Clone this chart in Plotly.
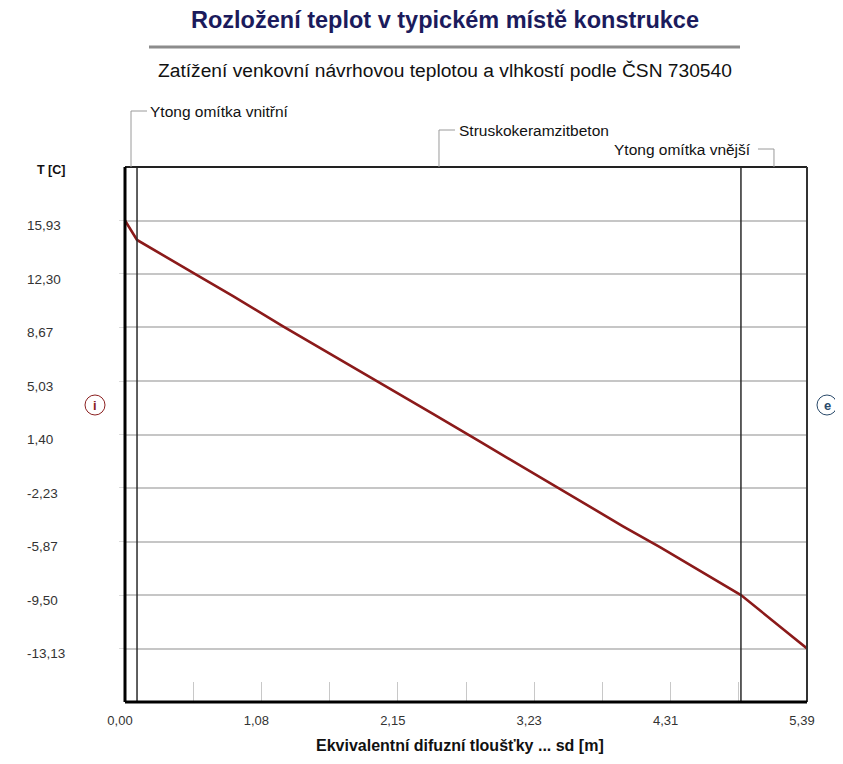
import plotly.graph_objects as go

# ---------------- data ----------------
sd_x = [0.0, 0.095, 0.593, 0.854, 1.249, 1.644, 1.992, 2.434, 2.806, 3.256, 3.596, 3.936, 4.228, 4.521, 4.868, 5.39]
temp_c = [15.93, 14.61, 12.10, 10.80, 8.74, 6.76, 5.05, 2.80, 0.91, -1.37, -3.08, -4.83, -6.25, -7.73, -9.50, -13.13]

layer_bounds = [0.0, 0.095, 4.868, 5.39]
layer_names = ["Ytong omítka vnitřní", "Struskokeramzitbeton", "Ytong omítka vnější"]

y_tick_vals = [15.93, 12.30, 8.67, 5.03, 1.40, -2.23, -5.87, -9.50, -13.13]
y_tick_text = ["15,93", "12,30", "8,67", "5,03", "1,40", "-2,23", "-5,87", "-9,50", "-13,13"]
x_tick_vals = [0.0, 1.078, 2.156, 3.234, 4.312, 5.39]
x_tick_text = ["0,00", "1,08", "2,15", "3,23", "4,31", "5,39"]

title = "Rozložení teplot v typickém místě konstrukce"
subtitle = "Zatížení venkovní návrhovou teplotou a vlhkostí podle ČSN 730540"
x_title = "Ekvivalentní difuzní tloušťky ... sd [m]"
y_title = "T [C]"

# ---------------- geometry (screen pixels, page body has an 8px margin) ----------------
W, H = 843, 764
OFF = 8
ML, MT = 125 - OFF - 105, 167 - OFF
MR = W - (807 - OFF)
MB = H - (702 - OFF)
PW = W - ML - MR
PH = H - MT - MB


def px(x):
    return (x - OFF - ML) / PW


def py(y):
    return (H - MB - (y - OFF)) / PH


y_step = (y_tick_vals[0] - y_tick_vals[-1]) / (len(y_tick_vals) - 1)
y_range = [y_tick_vals[-1] - y_step, y_tick_vals[0] + y_step]
x_range = [layer_bounds[0], layer_bounds[-1]]
minor_x = [x_range[1] * k / 10 for k in range(1, 10)]

FONT = "Liberation Sans, Arial, sans-serif"
LINE_RED = "#8b1a1a"

fig = go.Figure()
fig.add_trace(go.Scatter(x=sd_x, y=temp_c, mode="lines",
                         line=dict(color=LINE_RED, width=2.6),
                         showlegend=False, hoverinfo="x+y"))
# invisible companion trace carrying the left-aligned tick-label axis
fig.add_trace(go.Scatter(x=sd_x, y=temp_c, mode="lines", yaxis="y2",
                         line=dict(color="rgba(0,0,0,0)", width=0),
                         showlegend=False, hoverinfo="skip"))

shapes = []
for b in layer_bounds[1:-1]:
    shapes.append(dict(type="line", xref="x", yref="y domain", x0=b, x1=b, y0=0, y1=1,
                       line=dict(color="#2a2a2a", width=1.5)))
shapes += [
    dict(type="line", xref="x domain", yref="y domain", x0=0, x1=1, y0=1, y1=1, line=dict(color="#222", width=2)),
    dict(type="line", xref="x domain", yref="y domain", x0=1, x1=1, y0=0, y1=1, line=dict(color="#333", width=2)),
    dict(type="line", xref="x domain", yref="y domain", x0=0, x1=1, y0=0, y1=0, line=dict(color="#000", width=3)),
    dict(type="line", xref="x domain", yref="y domain", x0=0, x1=0, y0=0, y1=1, line=dict(color="#000", width=3)),
]

leader_cfg = [(111, 1, 17, "left"), (130, 1, 18, "left"), (149, -1, -21, "right")]
annotations = []
for i, name in enumerate(layer_names):
    mid = (layer_bounds[i] + layer_bounds[i + 1]) / 2
    ypix, direction, shift, anchor = leader_cfg[i]
    shapes.append(dict(type="line", xref="x", yref="paper", x0=mid, x1=mid, y0=1.0, y1=py(ypix),
                       line=dict(color="#9a9a9a", width=1)))
    shapes.append(dict(type="line", xref="x", xsizemode="pixel", xanchor=mid, yref="paper",
                       x0=0, x1=16 * direction, y0=py(ypix), y1=py(ypix),
                       line=dict(color="#9a9a9a", width=1)))
    annotations.append(dict(text=name, xref="x", yref="paper", x=mid, y=py(ypix),
                            xanchor=anchor, yanchor="middle", xshift=shift, showarrow=False,
                            font=dict(family=FONT, size=15.5, color="#111")))

shapes.append(dict(type="line", xref="paper", yref="paper", x0=px(149), x1=px(740),
                   y0=py(47), y1=py(47), line=dict(color="#8c8c8c", width=3)))

for cx, cy, col, letter in [(95, 405, "#8b2020", "i"), (827, 405, "#2a4a6a", "e")]:
    shapes.append(dict(type="circle", xref="paper", yref="paper", xsizemode="pixel", ysizemode="pixel",
                       xanchor=px(cx), yanchor=py(cy), x0=-10, x1=10, y0=-10, y1=10,
                       line=dict(color=col, width=1), fillcolor="white"))
    annotations.append(dict(text="<b>%s</b>" % letter, xref="paper", yref="paper", x=px(cx), y=py(cy),
                            xanchor="center", yanchor="middle", showarrow=False,
                            font=dict(family=FONT, size=13, color=col)))

annotations += [
    dict(text="<b>%s</b>" % title, xref="paper", yref="paper", x=px(445), y=py(20),
         xanchor="center", yanchor="middle", showarrow=False,
         font=dict(family=FONT, size=23.5, color="#1b1b5c")),
    dict(text=subtitle, xref="paper", yref="paper", x=px(445), y=py(70),
         xanchor="center", yanchor="middle", showarrow=False,
         font=dict(family=FONT, size=19.2, color="#111")),
    dict(text="<b>%s</b>" % x_title, xref="paper", yref="paper", x=px(460), y=py(745),
         xanchor="center", yanchor="middle", showarrow=False,
         font=dict(family=FONT, size=16, color="#111")),
    dict(text="<b>%s</b>" % y_title, xref="paper", yref="paper", x=px(35), y=py(170),
         xanchor="left", yanchor="middle", showarrow=False,
         font=dict(family=FONT, size=12.5, color="#111")),
]

fig.update_layout(
    width=W, height=H,
    margin=dict(l=ML, r=MR, t=MT, b=MB, autoexpand=False),
    paper_bgcolor="white", plot_bgcolor="white",
    showlegend=False,
    xaxis=dict(domain=[px(125), 1], range=x_range, showgrid=False, zeroline=False,
               automargin=False,
               showline=False, tickmode="array", tickvals=x_tick_vals, ticktext=x_tick_text,
               ticks="inside", ticklen=20, tickcolor="#c8c8c8", tickwidth=1,
               ticklabelshift=-5, ticklabelstandoff=9,
               minor=dict(tickmode="array", tickvals=minor_x, ticks="inside", ticklen=20,
                          tickcolor="#c8c8c8", tickwidth=1),
               tickfont=dict(family=FONT, size=13, color="#333")),
    yaxis=dict(range=y_range, tickmode="array", tickvals=y_tick_vals, ticktext=y_tick_text,
               automargin=False,
               showticklabels=False, showgrid=True, gridcolor="#c6c6c6", gridwidth=1.5,
               zeroline=False, showline=False, ticks="outside", ticklen=5,
               tickcolor="#dcdcdc", tickwidth=1),
    yaxis2=dict(overlaying="y", anchor="free", side="right", position=px(26), range=y_range,
                automargin=False,
                tickmode="array", tickvals=y_tick_vals, ticktext=y_tick_text,
                showgrid=False, zeroline=False, showline=False, ticks="",
                ticklabelshift=5,
                tickfont=dict(family=FONT, size=13.5, color="#333")),
    shapes=shapes,
    annotations=annotations,
)

fig.write_html("out.html")
